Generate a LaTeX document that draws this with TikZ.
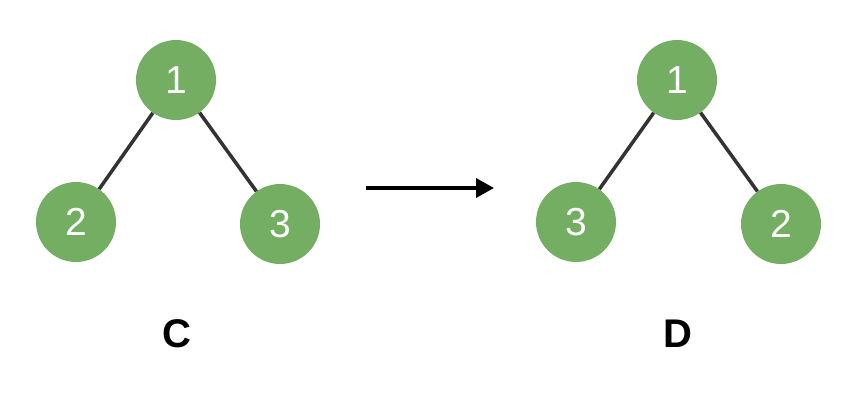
\documentclass[tikz,border=0pt]{standalone}
\usepackage{fontspec}
\setmainfont{Liberation Sans}
\usetikzlibrary{arrows.meta}
\definecolor{nodegreen}{RGB}{115,174,99}
\definecolor{edgegray}{RGB}{51,51,51}
\begin{document}
\begin{tikzpicture}[x=1pt,y=-1pt,
  vertex/.style={circle,fill=nodegreen,draw=none,minimum size=80pt,inner sep=0pt,
    text=white,font=\fontsize{39}{39}\selectfont},
  edge/.style={draw=edgegray,line width=3.5pt},
  caption/.style={font=\fontsize{40}{40}\selectfont\bfseries,text=black}]
\useasboundingbox (0,0) rectangle (862,400);
% left tree
\node[vertex] (c1) at (176,80) {1};
\node[vertex] (c2) at (76,222) {2};
\node[vertex] (c3) at (280,224) {3};
\draw[edge] (c1) -- (c2);
\draw[edge] (c1) -- (c3);
\node[caption] (lc) at (177,334) {C};
% right tree
\node[vertex] (d1) at (677,80) {1};
\node[vertex] (d3) at (576,222) {3};
\node[vertex] (d2) at (781,224) {2};
\draw[edge] (d1) -- (d3);
\draw[edge] (d1) -- (d2);
\node[caption] (ld) at (678,334) {D};
% transformation arrow
\coordinate (as) at (366,188);
\coordinate (ae) at (494,188);
\draw[line width=3.4pt,-{Triangle[length=18pt,width=19pt]}] (as) -- (ae);
\end{tikzpicture}
\end{document}
